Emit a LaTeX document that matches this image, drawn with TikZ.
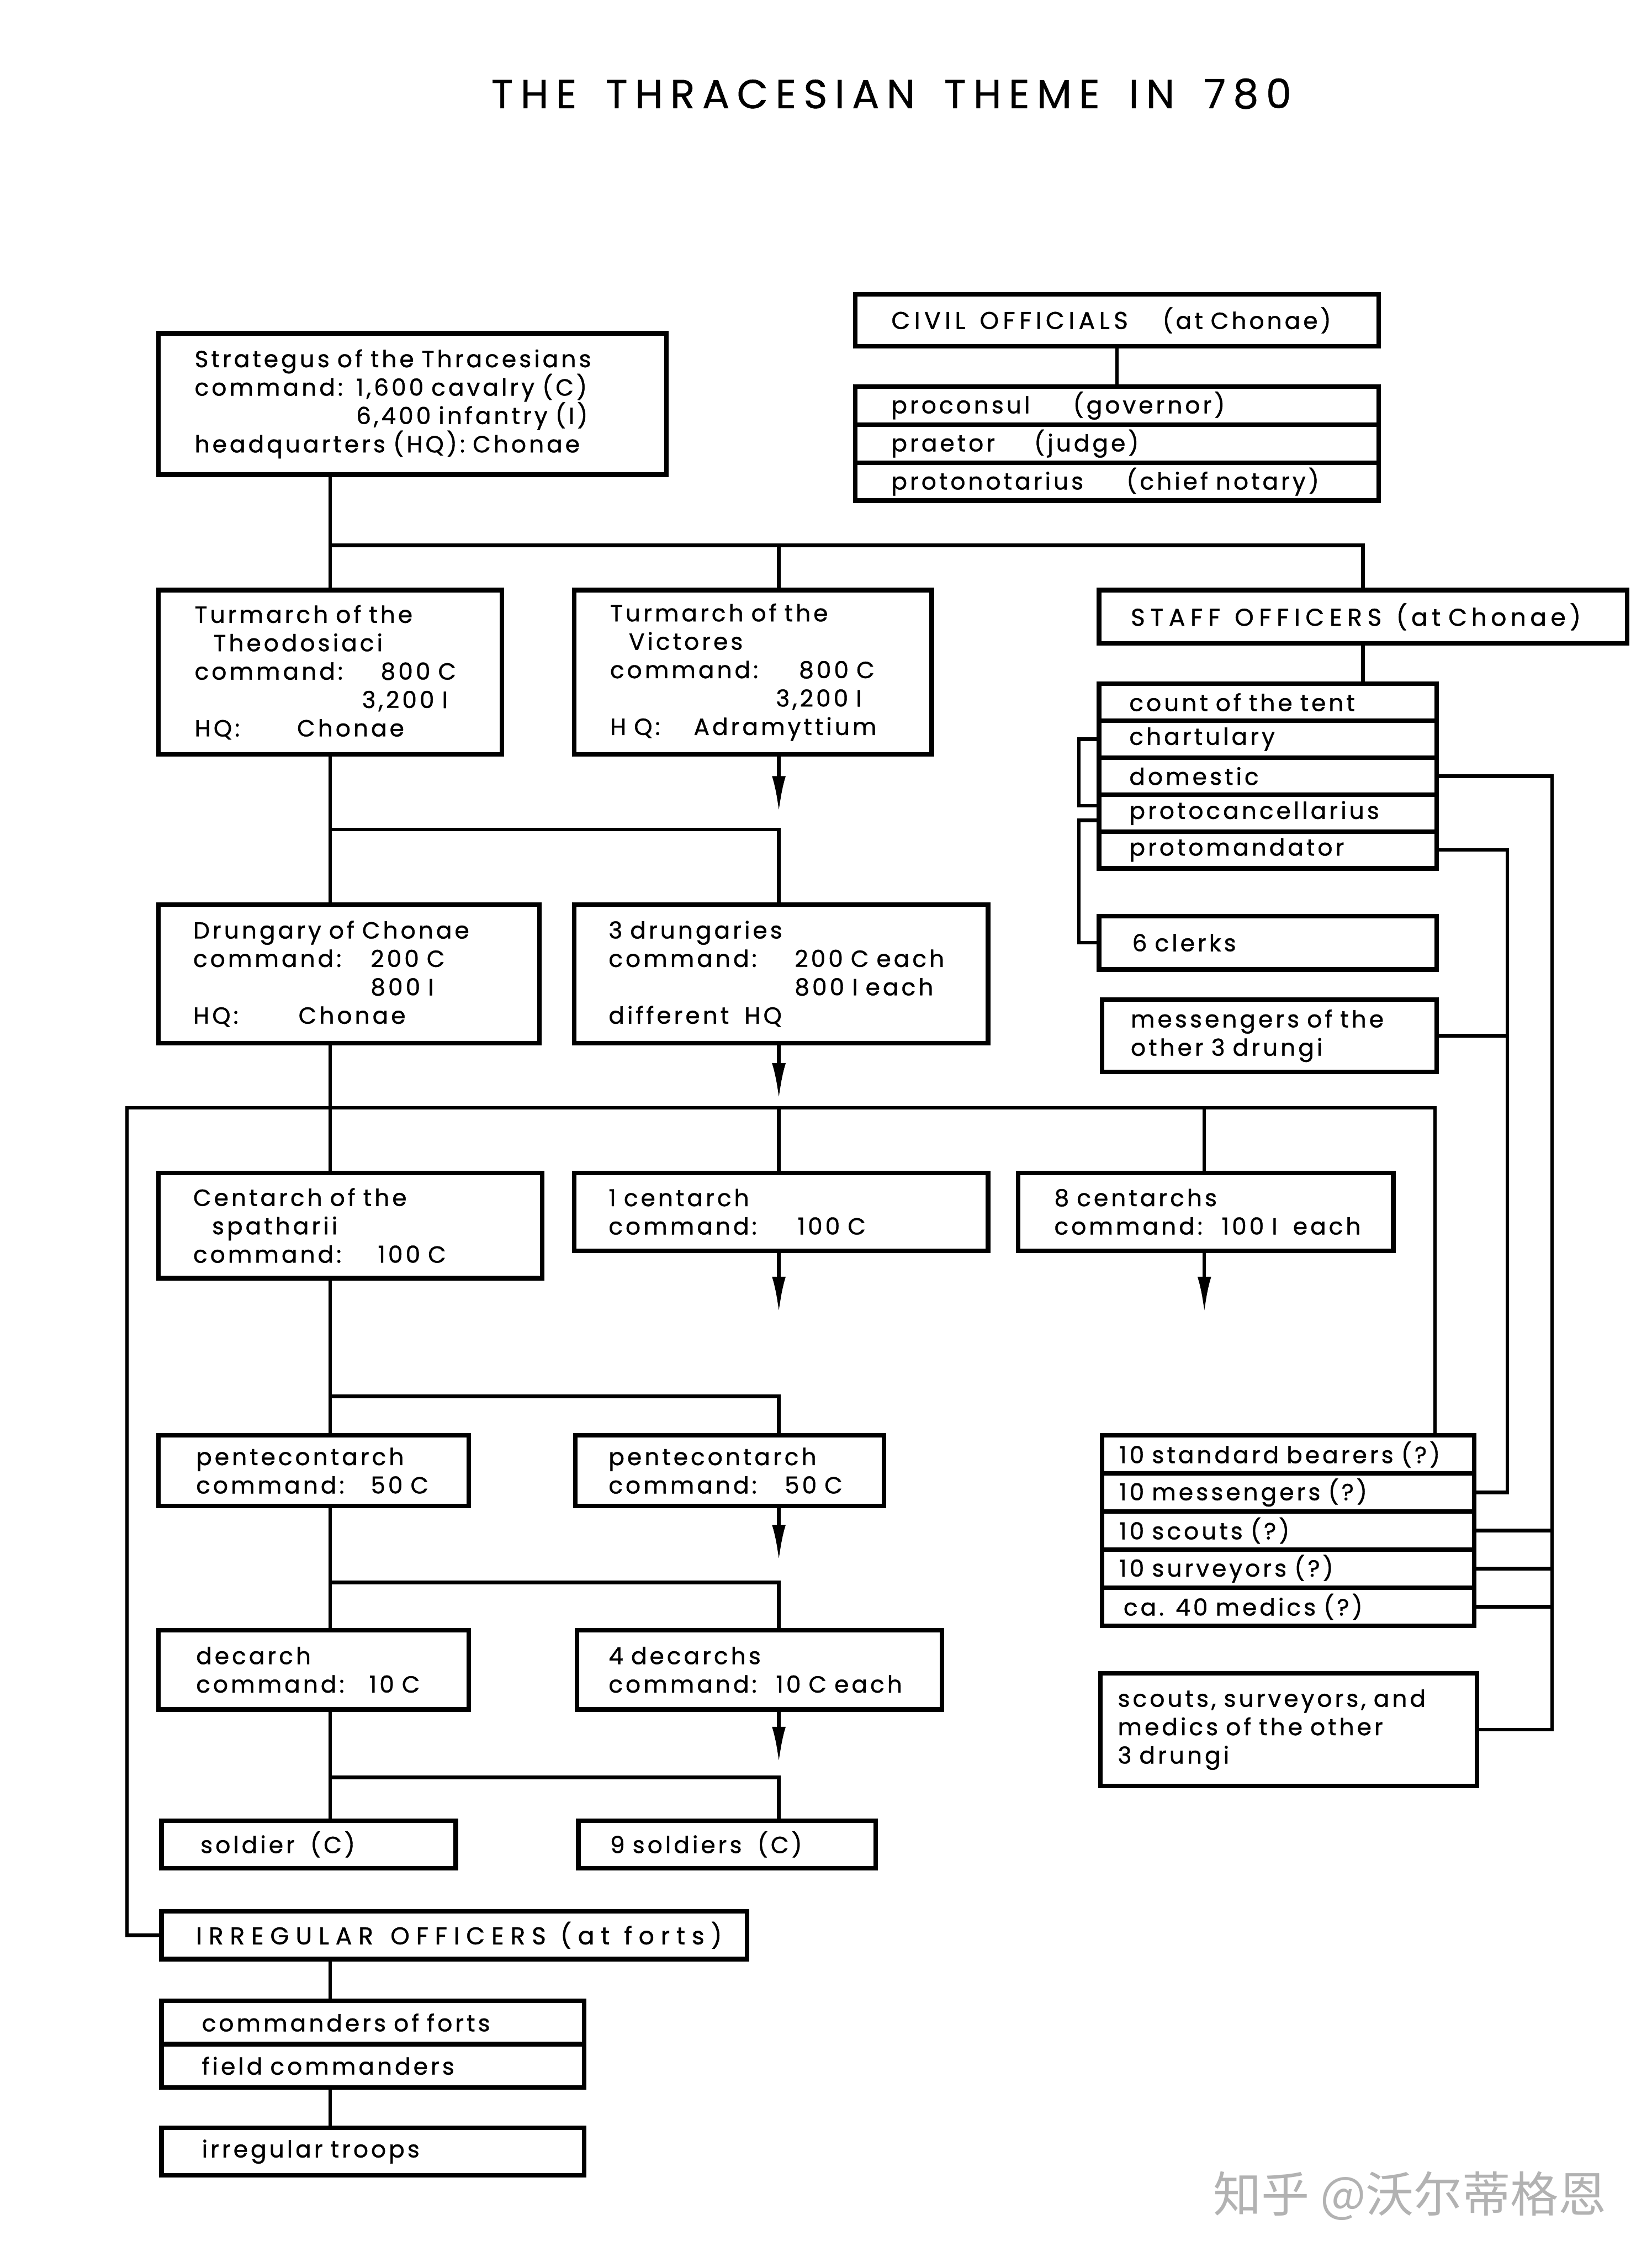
\documentclass[tikz,border=0pt]{standalone}
\usepackage{fontspec}
\setmainfont{Poppins}[LetterSpace=12,WordSpace=2.2,FakeBold=1]
\newfontfamily\capsfont{Poppins}[LetterSpace=17,WordSpace=3.2,Scale=1.04,FakeBold=1]
\newfontfamily\titlefont{Poppins}[LetterSpace=18,WordSpace=1.6,FakeBold=0.6]
\newfontfamily\cjk{Noto Sans CJK SC}
\usepackage{tikz}
\usetikzlibrary{positioning,arrows.meta}

\begin{document}
\begin{tikzpicture}[
    box/.style = {
        rectangle,
        draw=black,
        line width=1.8pt,
        anchor=north west,
        align=left,
        inner xsep=0.5cm,
        inner ysep=0pt,
        outer sep=0pt,
        font=\fontsize{9.2}{11.2}\selectfont
    },
    row/.style     = {box, below=0pt of #1},
    link/.style    = {line width=1.4pt, line cap=rect},
    down/.style    = {line width=1.4pt, -{Latex[length=5mm,width=1.9mm]}},
    heading/.style = {font=\titlefont\fontsize{16}{18}\selectfont},
    stamp/.style   = {font=\cjk\fontsize{19}{21}\selectfont, text=black!30}
]

\useasboundingbox[fill=white] (0,0) rectangle (22.9,-31.36);

% Columns and buses
\coordinate (colL) at (1.76,0);
\coordinate (colA) at (4.58,0);
\coordinate (colB) at (10.8,0);
\coordinate (colC) at (16.7,0);
\coordinate (colD) at (19.9,0);
\coordinate (colF) at (20.9,0);
\coordinate (colE) at (21.52,0);
\coordinate (brk)  at (14.96,0);
\coordinate (bus1) at (0,-7.56);
\coordinate (bus2) at (0,-11.5);
\coordinate (bus3) at (0,-15.36);
\coordinate (bus4) at (0,-19.36);
\coordinate (bus5) at (0,-21.94);
\coordinate (bus6) at (0,-24.64);

\node[heading] (title) at (12.36,-1.3) {THE THRACESIAN THEME IN 780};

% Strategus and civil officials
\node[box, text width=6.04cm, minimum height=1.96cm] (strat) at (2.2,-4.62) {
    Strategus of the Thracesians\\
    \makebox[2.24cm][l]{command:}1,600~cavalry~(C)\\
    \hspace*{2.24cm}6,400~infantry~(I)\\
    headquarters~(HQ):~Chonae
};

\node[box, text width=6.26cm, minimum height=0.72cm] (civhead) at (11.86,-4.08) {\makebox[3.76cm][l]{\capsfont CIVIL\hspace{0.2cm}OFFICIALS}(at~Chonae)};
\node[box, text width=6.26cm, minimum height=0.527cm] (civ1) at (11.86,-5.36) {\makebox[2.52cm][l]{proconsul}(governor)};
\node[row=civ1, text width=6.26cm, minimum height=0.527cm] (civ2) {\makebox[1.98cm][l]{praetor}(judge)};
\node[row=civ2, text width=6.26cm, minimum height=0.527cm] (civ3) {\makebox[3.26cm][l]{protonotarius}(chief~notary)};

% Turmarchs
\node[box, text width=3.76cm, minimum height=2.28cm] (theo) at (2.2,-8.18) {
    Turmarch of the\\
    \hspace*{0.26cm}Theodosiaci\\
    \makebox[2.58cm][l]{command:}800~C\\
    \hspace*{2.32cm}3,200~I\\
    \makebox[1.42cm][l]{HQ:}Chonae
};
\node[box, text width=3.96cm, minimum height=2.28cm] (vict) at (7.96,-8.18) {
    Turmarch of the\\
    \hspace*{0.26cm}Victores\\
    \makebox[2.62cm][l]{command:}800~C\\
    \hspace*{2.3cm}3,200~I\\
    \makebox[1.16cm][l]{H Q:}Adramyttium
};

% Staff officers
\node[box, inner xsep=0.44cm, text width=6.44cm, minimum height=0.74cm] (staffhead) at (15.24,-8.18) {\makebox[3.68cm][l]{\capsfont\addfontfeatures{LetterSpace=22}STAFF\hspace{0.2cm}OFFICERS}{\capsfont (at~Chonae)}};
\node[box, inner xsep=0.42cm, text width=3.84cm, minimum height=0.512cm] (staff1) at (15.24,-9.48) {count of the tent};
\node[row=staff1, inner xsep=0.42cm, text width=3.84cm, minimum height=0.512cm] (staff2) {chartulary};
\node[row=staff2, inner xsep=0.42cm, text width=3.84cm, minimum height=0.512cm] (staff3) {domestic};
\node[row=staff3, inner xsep=0.42cm, text width=3.84cm, minimum height=0.512cm] (staff4) {protocancellarius};
\node[row=staff4, inner xsep=0.42cm, text width=3.84cm, minimum height=0.512cm] (staff5) {protomandator};
\node[box, inner xsep=0.46cm, text width=3.76cm, minimum height=0.74cm] (clerks) at (15.24,-12.7) {6 clerks};
\node[box, inner xsep=0.4cm, text width=3.84cm, minimum height=1.0cm] (msgoth) at (15.28,-13.86) {
    messengers of the\\
    other 3 drungi
};

% Drungaries
\node[box, inner xsep=0.48cm, text width=4.32cm, minimum height=1.92cm] (drung) at (2.2,-12.54) {
    Drungary of Chonae\\
    \makebox[2.46cm][l]{command:}200~C\\
    \hspace*{2.46cm}800~I\\
    \makebox[1.46cm][l]{HQ:}Chonae
};
\node[box, inner xsep=0.48cm, text width=4.78cm, minimum height=1.92cm] (drung3) at (7.96,-12.54) {
    3 drungaries\\
    \makebox[2.58cm][l]{command:}200~C~each\\
    \hspace*{2.58cm}800~I~each\\
    different\ \ HQ
};

% Centarchs
\node[box, inner xsep=0.48cm, text width=4.36cm, minimum height=1.46cm] (cent) at (2.2,-16.26) {
    Centarch of the\\
    \hspace*{0.26cm}spatharii\\
    \makebox[2.56cm][l]{command:}100~C
};
\node[box, inner xsep=0.48cm, text width=4.78cm, minimum height=1.08cm] (cent1) at (7.96,-16.26) {
    1 centarch\\
    \makebox[2.62cm][l]{command:}100~C
};
\node[box, inner xsep=0.5cm, text width=4.2cm, minimum height=1.08cm] (cent8) at (14.12,-16.26) {
    8 centarchs\\
    \makebox[2.32cm][l]{command:}100~I~~each
};

% Pentecontarchs, decarchs, soldiers
\node[box, inner xsep=0.52cm, text width=3.26cm, minimum height=0.98cm] (pent) at (2.2,-19.9) {
    pentecontarch\\
    \makebox[2.42cm][l]{command:}50~C
};
\node[box, inner xsep=0.46cm, text width=3.36cm, minimum height=0.98cm] (pent2) at (7.98,-19.9) {
    pentecontarch\\
    \makebox[2.44cm][l]{command:}50~C
};
\node[box, inner xsep=0.52cm, text width=3.26cm, minimum height=1.1cm] (dec) at (2.2,-22.6) {
    decarch\\
    \makebox[2.4cm][l]{command:}10~C
};
\node[box, inner xsep=0.44cm, text width=4.18cm, minimum height=1.1cm] (dec4) at (8.0,-22.6) {
    4 decarchs\\
    \makebox[2.32cm][l]{command:}10~C~each
};
\node[box, inner xsep=0.54cm, text width=3.0cm, minimum height=0.66cm] (sold) at (2.24,-25.24) {soldier\ \ (C)};
\node[box, inner xsep=0.44cm, text width=3.24cm, minimum height=0.66cm] (sold9) at (8.02,-25.24) {9 soldiers\ \ (C)};

% Staff of the drungary
\node[box, inner xsep=0.24cm, text width=4.68cm, minimum height=0.528cm] (bear1) at (15.28,-19.9) {10~standard~bearers~(?)};
\node[row=bear1, inner xsep=0.24cm, text width=4.68cm, minimum height=0.528cm] (bear2) {10 messengers (?)};
\node[row=bear2, inner xsep=0.24cm, text width=4.68cm, minimum height=0.528cm] (bear3) {10 scouts (?)};
\node[row=bear3, inner xsep=0.24cm, text width=4.68cm, minimum height=0.528cm] (bear4) {10 surveyors (?)};
\node[row=bear4, inner xsep=0.24cm, text width=4.68cm, minimum height=0.528cm] (bear5) {\hspace*{0.06cm}ca. 40 medics (?)};
\node[box, inner xsep=0.24cm, text width=4.74cm, minimum height=1.56cm] (scoutoth) at (15.26,-23.2) {
    scouts,~surveyors,~and\\
    medics of the other\\
    3 drungi
};

% Irregulars
\node[box, inner xsep=0.48cm, text width=7.16cm, minimum height=0.66cm] (irreg) at (2.24,-26.5) {\capsfont\addfontfeatures{LetterSpace=27}IRREGULAR\hspace{0.24cm}OFFICERS\hspace{0.2cm}(at\hspace{0.2cm}forts)};
\node[box, inner xsep=0.56cm, text width=4.74cm, minimum height=0.6cm] (cmdr1) at (2.24,-27.74) {commanders of forts};
\node[row=cmdr1, inner xsep=0.56cm, text width=4.74cm, minimum height=0.6cm] (cmdr2) {field commanders};
\node[box, inner xsep=0.56cm, text width=4.74cm, minimum height=0.66cm] (troops) at (2.24,-29.5) {irregular troops};

% Free ends of the arrows
\coordinate (tipV)  at (10.8,-11.26);
\coordinate (tipD)  at (10.8,-15.24);
\coordinate (tipC1) at (10.8,-18.2);
\coordinate (tipC8) at (16.7,-18.2);
\coordinate (tipP)  at (10.8,-21.64);
\coordinate (tipX)  at (10.8,-24.44);

% Strategus down to the turmarchs and staff
\draw[link] (strat.south -| colA) -- (theo.north -| colA);
\draw[link] (colA |- bus1) -- (bus1 -| staffhead.north) -- (staffhead.north);
\draw[link] (colB |- bus1) -- (vict.north -| colB);
\draw[link] (civhead.south) -- (civ1.north);
\draw[link] (staffhead.south) -- (staffhead.south |- staff1.north);

% Turmarchs down to the drungaries
\draw[link] (theo.south -| colA) -- (drung.north -| colA);
\draw[link] (colA |- bus2) -- (colB |- bus2) -- (drung3.north -| colB);
\draw[down] (vict.south -| colB) -- (tipV);

% Drungaries down to the centarchs
\draw[link] (drung.south -| colA) -- (cent.north -| colA);
\draw[link] (colL |- bus3) -- (colD |- bus3) -- (bear1.north -| colD);
\draw[link] (colB |- bus3) -- (cent1.north -| colB);
\draw[link] (colC |- bus3) -- (cent8.north -| colC);
\draw[link] (colL |- bus3) |- (irreg.west);
\draw[down] (drung3.south -| colB) -- (tipD);

% Centarchs down to the soldiers
\draw[link] (cent.south -| colA) -- (pent.north -| colA);
\draw[link] (colA |- bus4) -- (colB |- bus4) -- (pent2.north -| colB);
\draw[down] (cent1.south -| colB) -- (tipC1);
\draw[down] (cent8.south -| colC) -- (tipC8);

\draw[link] (pent.south -| colA) -- (dec.north -| colA);
\draw[link] (colA |- bus5) -- (colB |- bus5) -- (dec4.north -| colB);
\draw[down] (pent2.south -| colB) -- (tipP);

\draw[link] (dec.south -| colA) -- (sold.north -| colA);
\draw[link] (colA |- bus6) -- (colB |- bus6) -- (sold9.north -| colB);
\draw[down] (dec4.south -| colB) -- (tipX);

% Irregulars
\draw[link] (irreg.south -| colA) -- (cmdr1.north -| colA);
\draw[link] (cmdr2.south -| colA) -- (troops.north -| colA);

% Staff brackets and cross links
\draw[link] (staff2.west) -- (brk |- staff2.west) |- ([yshift=0.1cm]staff4.west);
\draw[link] ([yshift=-0.1cm]staff4.west) -| (brk |- clerks.west) -- (clerks.west);
\draw[link] (staff3.east) -| (colE |- scoutoth.east) -- (scoutoth.east);
\foreach \n in {3,4,5}
    \draw[link] (bear\n.east) -- (colE |- bear\n.east);
\draw[link] (staff5.east) -| (colF |- bear2.east) -- (bear2.east);
\draw[link] (msgoth.east) -- (colF |- msgoth.east);

\node[stamp] (mark) at (19.55,-30.44) {知乎 @沃尔蒂格恩};

\end{tikzpicture}
\end{document}
